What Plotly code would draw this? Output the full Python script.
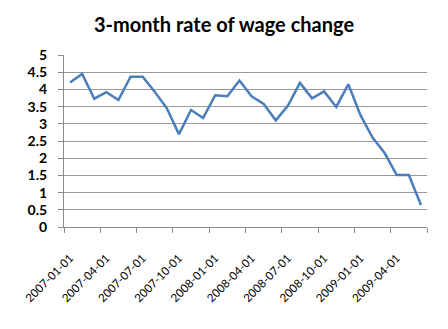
import plotly.graph_objects as go

months = ["2007-01-01","2007-02-01","2007-03-01","2007-04-01","2007-05-01","2007-06-01",
          "2007-07-01","2007-08-01","2007-09-01","2007-10-01","2007-11-01","2007-12-01",
          "2008-01-01","2008-02-01","2008-03-01","2008-04-01","2008-05-01","2008-06-01",
          "2008-07-01","2008-08-01","2008-09-01","2008-10-01","2008-11-01","2008-12-01",
          "2009-01-01","2009-02-01","2009-03-01","2009-04-01","2009-05-01","2009-06-01"]
wage_change = [4.20, 4.45, 3.73, 3.92, 3.69, 4.37, 4.37, 3.93, 3.45, 2.70, 3.40, 3.17,
               3.83, 3.80, 4.26, 3.80, 3.58, 3.10, 3.52, 4.19, 3.74, 3.94, 3.49, 4.15,
               3.25, 2.60, 2.15, 1.51, 1.51, 0.64]
tick_labels = months[::3]
y_ticks = [0, 0.5, 1, 1.5, 2, 2.5, 3, 3.5, 4, 4.5, 5]

boundaries = [i - 0.5 for i in range(0, len(months) + 1, 3)]

fig = go.Figure()
fig.add_trace(go.Scatter(x=months, y=wage_change, mode="lines",
                         line=dict(color="#4a7ebb", width=2.5)))

fig.update_layout(
    width=448, height=329,
    margin=dict(l=64, r=21, t=55, b=102),
    paper_bgcolor="white", plot_bgcolor="white",
    showlegend=False,
    title=dict(text="<b>3-month rate of wage change</b>", x=0.5, xanchor="center",
               y=0.924, yanchor="middle", xref="container",
               font=dict(family="Lato", size=20, color="black")),
    font=dict(family="Lato", color="black"),
)
fig.update_xaxes(type="category", categoryorder="array", categoryarray=months,
                 range=[-0.5, len(months) - 0.5],
                 tickmode="array", tickvals=tick_labels, ticktext=tick_labels,
                 tickangle=-45, ticks="", showgrid=False, ticklabelstandoff=19,
                 tickfont=dict(family="Lato", size=11.5, color="black"),
                 showline=True, linecolor="#8c8c8c", linewidth=1,
                 minor=dict(tickmode="array", tickvals=boundaries, ticks="outside",
                            ticklen=5, tickcolor="#8c8c8c", showgrid=False))
fig.update_yaxes(range=[0, 5], tickmode="array", tickvals=y_ticks,
                 ticktext=[f"{v:g}" for v in y_ticks],
                 showgrid=True, gridcolor="#999999", gridwidth=1,
                 ticks="outside", ticklen=5, tickcolor="#8c8c8c",
                 showline=True, linecolor="#8c8c8c", linewidth=1,
                 zeroline=False, ticklabelstandoff=8,
                 tickfont=dict(family="Lato", size=14, color="black", weight="bold"))

fig.write_html("out.html")
